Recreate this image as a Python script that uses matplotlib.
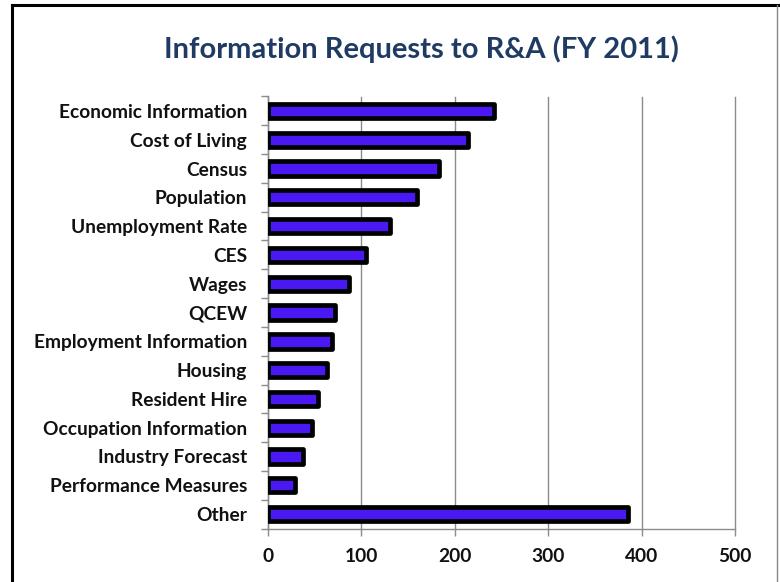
import matplotlib
matplotlib.use("Agg")
import matplotlib.pyplot as plt
from matplotlib.lines import Line2D
import numpy as np

categories = ["Economic Information", "Cost of Living", "Census", "Population",
              "Unemployment Rate", "CES", "Wages", "QCEW", "Employment Information",
              "Housing", "Resident Hire", "Occupation Information", "Industry Forecast",
              "Performance Measures", "Other"]
values = [242, 214, 183, 160, 131, 105, 87, 72, 69, 63, 54, 47, 37, 29, 385]
xticks = [0, 100, 200, 300, 400, 500]
title = "Information Requests to R&A (FY 2011)"

fig = plt.figure(figsize=(7.8, 5.82), dpi=100)
W, H = 780, 582
ax = fig.add_axes([268 / W, 1 - 528.5 / H, (735 - 268) / W, (528.5 - 96.5) / H])

y = np.arange(len(categories))
ax.barh(y, values, height=0.5, color="#4A18F2", edgecolor="black", linewidth=3.4,
        joinstyle="round", zorder=3)
ax.set_ylim(len(categories) - 0.5, -0.5)
ax.set_xlim(0, 500)
ax.set_xticks(xticks)
ax.set_xticklabels([str(t) for t in xticks])
ax.set_yticks(y)
ax.set_yticklabels(categories)
ax.set_yticks(np.arange(-0.5, len(categories), 1), minor=True)

ax.grid(axis="x", color="#8c8c8c", linewidth=1.0, zorder=0)
for gl in ax.get_xgridlines():
    gl.set_clip_on(False)
for s in ["top", "right"]:
    ax.spines[s].set_visible(False)
for s in ["left", "bottom"]:
    ax.spines[s].set_color("#8c8c8c")
    ax.spines[s].set_linewidth(1.0)

ax.tick_params(axis="y", which="major", length=0, pad=15, labelsize=13.8, labelcolor="#111111")
ax.tick_params(axis="y", which="minor", length=5, color="#8c8c8c", width=1)
ax.tick_params(axis="x", which="major", length=5, color="#8c8c8c", width=1, pad=9,
               labelsize=13.8, labelcolor="#111111")
for lab in ax.get_yticklabels() + ax.get_xticklabels():
    lab.set_family("Lato")
    lab.set_fontweight("bold")

fig.text(421 / W, 1 - 49 / H, title, ha="center", va="center", fontsize=21,
         fontweight="bold", color="#1F3B64", family="Lato")

# frame
fig.add_artist(Line2D([12 / W, 12 / W], [0, 1 - 5 / H], color="black", linewidth=2.2,
                      transform=fig.transFigure))
fig.add_artist(Line2D([12 / W, 1], [1 - 5 / H, 1 - 5 / H], color="black", linewidth=2.2,
                      transform=fig.transFigure))
fig.add_artist(Line2D([777 / W, 777 / W], [0, 1 - 5 / H], color="#888888", linewidth=1.0,
                      transform=fig.transFigure))

fig.savefig("out.png", dpi=100)
